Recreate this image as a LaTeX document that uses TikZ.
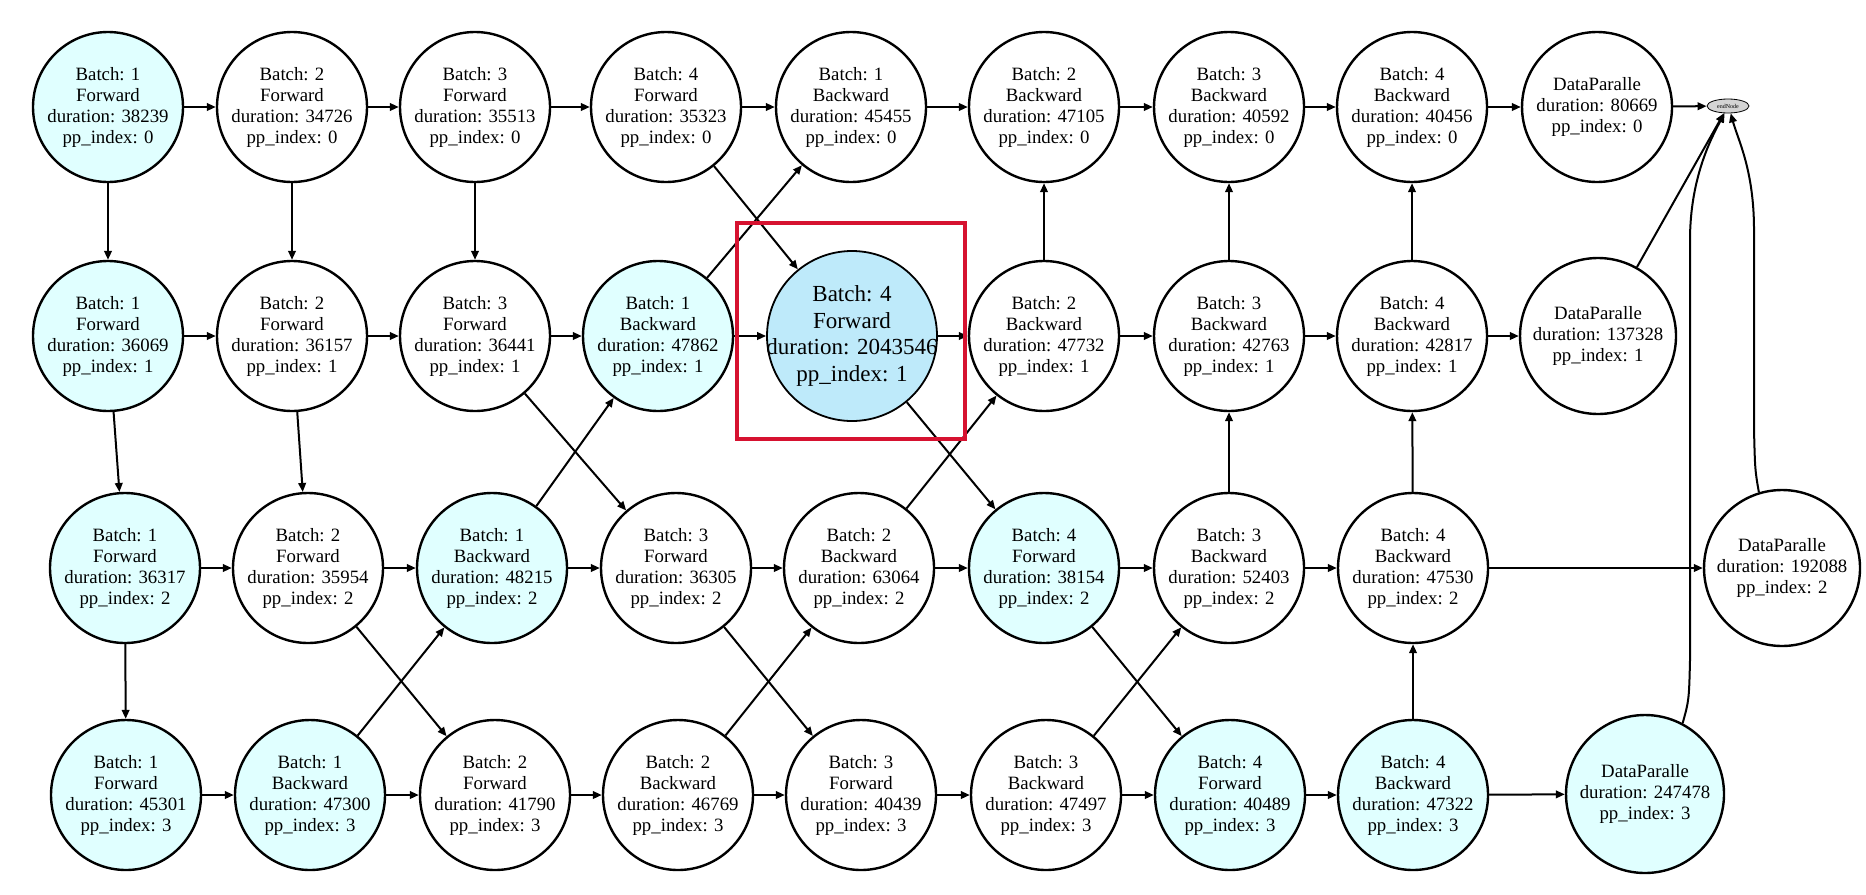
\documentclass[tikz,border=0pt]{standalone}
\usepackage{fontspec}
\setmainfont{Liberation Serif}
\newfontfamily\graphfont{Liberation Serif}
\usetikzlibrary{arrows.meta,shapes.geometric}
\definecolor{critcyan}{RGB}{224,255,255}
\definecolor{hotblue}{RGB}{190,234,250}
\definecolor{boxred}{RGB}{214,18,48}

\begin{document}
\begin{tikzpicture}[x=0.5pt,y=-0.5pt,
    stage/.style={circle,draw,line width=1.2pt,minimum size=75pt,inner sep=0pt,align=center,font=\graphfont\fontsize{9.4}{10.5}\selectfont},
    crit/.style={stage,fill=critcyan},
    hot/.style={stage,fill=hotblue,line width=0.9pt,minimum size=85pt,inner sep=-8pt,font=\graphfont\fontsize{11.5}{13.2}\selectfont},
    edge/.style={line width=1pt,-{Triangle[length=4.5pt,width=3.8pt]}},
    endmark/.style={ellipse,draw,line width=0.4pt,fill=black!17,minimum width=21pt,minimum height=7pt,inner sep=0pt,font=\graphfont\fontsize{3}{3}\selectfont}]

\path[fill=white] (0,0) rectangle (1866,894);
% \draw[step=50,gray,very thin] (0,0) grid (1866,894);

        % pp_index 0
        \foreach \n/\x/\bt/\dir/\dur/\sty in {f1s0/108/1/Forward/38239/crit, f2s0/292/2/Forward/34726/stage,
            f3s0/475/3/Forward/35513/stage, f4s0/666/4/Forward/35323/stage, b1s0/851/1/Backward/45455/stage,
            b2s0/1044/2/Backward/47105/stage, b3s0/1229/3/Backward/40592/stage, b4s0/1412/4/Backward/40456/stage}
            \node[\sty] (\n) at (\x,107) {Batch: \bt\\\dir\\duration: \dur\\pp\_index: 0};
        \node[stage] (dp0) at (1597,107) {DataParalle\\duration: 80669\\pp\_index: 0};
        \node[endmark] (endn) at (1728,106) {endNode};

        % pp_index 1
        \foreach \n/\x/\bt/\dir/\dur/\sty in {f1s1/108/1/Forward/36069/crit, f2s1/292/2/Forward/36157/stage,
            f3s1/475/3/Forward/36441/stage, b1s1/658/1/Backward/47862/crit,
            b2s1/1044/2/Backward/47732/stage, b3s1/1229/3/Backward/42763/stage, b4s1/1412/4/Backward/42817/stage}
            \node[\sty] (\n) at (\x,336) {Batch: \bt\\\dir\\duration: \dur\\pp\_index: 1};
        \node[hot] (f4s1) at (852,336) {Batch: 4\\Forward\\duration: 2043546\\pp\_index: 1};
        \node[stage,minimum size=78pt] (dp1) at (1598,336) {DataParalle\\duration: 137328\\pp\_index: 1};

        % pp_index 2
        \foreach \n/\x/\bt/\dir/\dur/\sty in {f1s2/125/1/Forward/36317/crit, f2s2/308/2/Forward/35954/stage,
            b1s2/492/1/Backward/48215/crit, f3s2/676/3/Forward/36305/stage, b2s2/859/2/Backward/63064/stage,
            f4s2/1044/4/Forward/38154/crit, b3s2/1229/3/Backward/52403/stage, b4s2/1413/4/Backward/47530/stage}
            \node[\sty] (\n) at (\x,568) {Batch: \bt\\\dir\\duration: \dur\\pp\_index: 2};
        \node[stage,minimum size=78pt] (dp2) at (1782,568) {DataParalle\\duration: 192088\\pp\_index: 2};

        % pp_index 3
        \foreach \n/\x/\bt/\dir/\dur/\sty in {f1s3/126/1/Forward/45301/crit, b1s3/310/1/Backward/47300/crit,
            f2s3/495/2/Forward/41790/stage, b2s3/678/2/Backward/46769/stage, f3s3/861/3/Forward/40439/stage,
            b3s3/1046/3/Backward/47497/stage, f4s3/1230/4/Forward/40489/crit, b4s3/1413/4/Backward/47322/crit}
            \node[\sty] (\n) at (\x,795) {Batch: \bt\\\dir\\duration: \dur\\pp\_index: 3};
        \node[crit,minimum size=79pt] (dp3) at (1645,794) {DataParalle\\duration: 247478\\pp\_index: 3};

        % order on each stage
        \foreach \a/\c in {f1s0/f2s0,f2s0/f3s0,f3s0/f4s0,f4s0/b1s0,b1s0/b2s0,b2s0/b3s0,b3s0/b4s0,b4s0/dp0,dp0/endn,
            f1s1/f2s1,f2s1/f3s1,f3s1/b1s1,b1s1/f4s1,f4s1/b2s1,b2s1/b3s1,b3s1/b4s1,b4s1/dp1,
            f1s2/f2s2,f2s2/b1s2,b1s2/f3s2,f3s2/b2s2,b2s2/f4s2,f4s2/b3s2,b3s2/b4s2,b4s2/dp2,
            f1s3/b1s3,b1s3/f2s3,f2s3/b2s3,b2s3/f3s3,f3s3/b3s3,b3s3/f4s3,f4s3/b4s3,b4s3/dp3}
            \draw[edge] (\a) -- (\c);

        % forward goes down, backward goes up
        \foreach \k in {1,...,4}
            \foreach \s/\t in {0/1,1/2,2/3} {
                \draw[edge] (f\k s\s) -- (f\k s\t);
                \draw[edge] (b\k s\t) -- (b\k s\s);
            }

        \draw[edge] (dp1) -- (endn);
        \draw[edge] (dp2.107) .. controls (1755,470) .. (1754,430) -- (1754,230) .. controls (1754,170) and (1738,140) .. (endn.-70);
        \draw[edge] (dp3.62) .. controls (1689,700) .. (1690,660) -- (1690,240) .. controls (1690,180) and (1710,140) .. (endn.-115);

        \draw[boxred,line width=1.75pt] (737,223) rectangle (965,439);

    \end{tikzpicture}
\end{document}
